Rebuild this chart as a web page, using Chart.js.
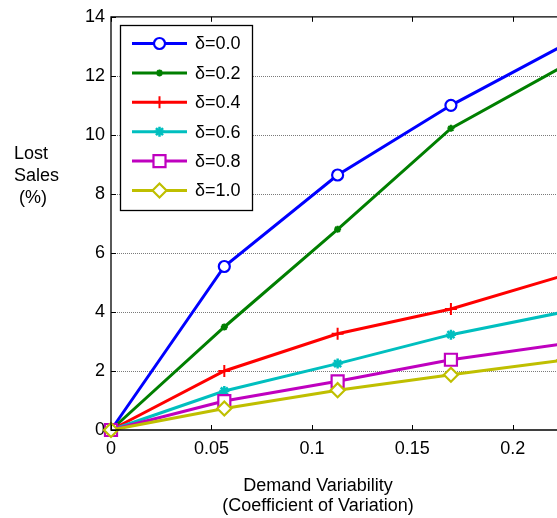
<!DOCTYPE html>
<html><head><meta charset="utf-8">
<script src="https://cdn.jsdelivr.net/npm/chart.js@4/dist/chart.umd.min.js"></script>
<style>html,body{margin:0;padding:0;background:#fff;overflow:hidden}#wrap{width:557px;height:518px;position:relative}</style>
</head><body><div id="wrap"><canvas id="c" width="557" height="518"></canvas></div>
<script>
// ---- data ----
const cv = [0, 0.0564, 0.1128, 0.1692, 0.2256];
const seriesLabels = ['δ=0.0', 'δ=0.2', 'δ=0.4', 'δ=0.6', 'δ=0.8', 'δ=1.0'];
const d00 = [0, 5.54, 8.64, 11.0, 13.05];
const d02 = [0, 3.49, 6.80, 10.22, 12.34];
const d04 = [0, 2.00, 3.26, 4.10, 5.24];
const d06 = [0, 1.32, 2.25, 3.23, 4.00];
const d08 = [0, 0.98, 1.65, 2.38, 2.92];
const d10 = [0, 0.73, 1.35, 1.87, 2.37];
const yTicks = [0, 2, 4, 6, 8, 10, 12, 14];
const xTicks = [0, 0.05, 0.1, 0.15, 0.2];
const yTitle = ['Lost', 'Sales', ' (%)'];
const xTitle = ['Demand Variability', '(Coefficient of Variation)'];

// ---- styles ----
const FONT = "'Liberation Sans', Arial, Helvetica, sans-serif";
const colors = ['#0000ff', '#007f00', '#ff0000', '#00bfbf', '#bf00bf', '#bfbf00'];
const markers = [
  {pointStyle: 'circle', radius: 5.5, borderWidth: 2.2},
  {pointStyle: 'star', radius: 3.5, borderWidth: 2},
  {pointStyle: 'cross', radius: 6, borderWidth: 2},
  {pointStyle: 'star', radius: 5, borderWidth: 2.5},
  {pointStyle: 'rect', radius: 8.5, borderWidth: 2.2},
  {pointStyle: 'rectRot', radius: 7, borderWidth: 2.2}
];
const allSeries = [d00, d02, d04, d06, d08, d10];

const datasets = allSeries.map((s, i) => ({
  label: seriesLabels[i],
  data: cv.map((x, j) => ({x: x, y: s[j]})),
  borderColor: colors[i],
  backgroundColor: colors[i],
  borderWidth: 3,
  pointStyle: markers[i].pointStyle,
  pointRadius: markers[i].radius,
  pointBorderWidth: markers[i].borderWidth,
  pointBorderColor: colors[i],
  pointBackgroundColor: '#ffffff',
  tension: 0,
  clip: false,
  order: allSeries.length - i
}));

const deco = {
  id: 'deco',
  beforeDatasetsDraw(chart) {
    const {ctx, chartArea: a, scales: {y}} = chart;
    ctx.save();
    ctx.strokeStyle = '#7a7a7a';
    ctx.lineWidth = 1;
    ctx.setLineDash([1, 1]);
    yTicks.forEach(v => {
      if (v === yTicks[0] || v === yTicks[yTicks.length - 1]) return;
      const py = Math.round(y.getPixelForValue(v)) + 0.5;
      ctx.beginPath(); ctx.moveTo(a.left, py); ctx.lineTo(a.right, py); ctx.stroke();
    });
    ctx.restore();
  },
  afterDatasetsDraw(chart) {
    const {ctx, chartArea: a, scales: {x, y}} = chart;
    ctx.save();
    ctx.strokeStyle = '#000';
    ctx.lineWidth = 1.3;
    // frame: left, top, bottom
    ctx.beginPath();
    ctx.moveTo(a.right + 2, a.top); ctx.lineTo(a.left, a.top); ctx.lineTo(a.left, a.bottom); ctx.lineTo(a.right + 2, a.bottom);
    ctx.stroke();
    // inner ticks
    ctx.lineWidth = 1;
    const TL = 5;
    yTicks.forEach(v => {
      const py = Math.round(y.getPixelForValue(v)) + 0.5;
      ctx.beginPath(); ctx.moveTo(a.left, py); ctx.lineTo(a.left + TL, py); ctx.stroke();
    });
    xTicks.forEach(v => {
      const px = Math.round(x.getPixelForValue(v)) + 0.5;
      ctx.beginPath(); ctx.moveTo(px, a.bottom); ctx.lineTo(px, a.bottom - TL); ctx.stroke();
      ctx.beginPath(); ctx.moveTo(px, a.top); ctx.lineTo(px, a.top + TL); ctx.stroke();
    });
    ctx.restore();

    // axis titles
    ctx.save();
    ctx.fillStyle = '#000';
    ctx.font = '18px ' + FONT;
    ctx.textBaseline = 'alphabetic';
    ctx.textAlign = 'left';
    yTitle.forEach((t, i) => ctx.fillText(t, 14, 159 + i * 22));
    ctx.textAlign = 'center';
    xTitle.forEach((t, i) => ctx.fillText(t, 318, 491 + i * 20));
    ctx.restore();

    // legend
    ctx.save();
    const lx = 120.5, ly = 25.5, lw = 132, lh = 185;
    ctx.fillStyle = '#fff';
    ctx.fillRect(lx, ly, lw, lh);
    ctx.strokeStyle = '#000';
    ctx.lineWidth = 1.3;
    ctx.strokeRect(lx, ly, lw, lh);
    chart.data.datasets.forEach((ds, i) => {
      const cy = 43.5 + i * 29.4;
      ctx.strokeStyle = ds.borderColor;
      ctx.lineWidth = 3;
      ctx.beginPath(); ctx.moveTo(132, cy); ctx.lineTo(187, cy); ctx.stroke();
      ctx.fillStyle = '#fff';
      ctx.lineWidth = ds.pointBorderWidth;
      Chart.helpers.drawPoint(ctx, {pointStyle: ds.pointStyle, radius: ds.pointRadius, rotation: 0, borderWidth: ds.pointBorderWidth}, 159.5, cy);
      ctx.fillStyle = '#000';
      ctx.font = '18px ' + FONT;
      ctx.textAlign = 'left';
      ctx.textBaseline = 'middle';
      ctx.fillText(ds.label, 195, cy + 1);
    });
    ctx.restore();
  }
};

new Chart(document.getElementById('c'), {
  type: 'line',
  data: {datasets: datasets},
  options: {
    responsive: false,
    animation: false,
    devicePixelRatio: 1,
    layout: {autoPadding: false, padding: {top: 15, right: 0, bottom: 0, left: 0}},
    plugins: {legend: {display: false}, tooltip: {enabled: false}},
    scales: {
      x: {
        type: 'linear', min: 0, max: 0.222,
        afterBuildTicks: s => { s.ticks = xTicks.map(v => ({value: v})); },
        afterFit: s => { s.height = 88; },
        grid: {display: false, drawTicks: false},
        border: {display: false},
        ticks: {color: '#000', font: {size: 18, family: FONT}, padding: 8, maxRotation: 0, autoSkip: false,
          callback: v => String(v)}
      },
      y: {
        type: 'linear', min: 0, max: 14,
        afterBuildTicks: s => { s.ticks = yTicks.map(v => ({value: v})); },
        afterFit: s => { s.width = 111; },
        grid: {display: false, drawTicks: false},
        border: {display: false},
        ticks: {color: '#000', font: {size: 18, family: FONT}, padding: 6, autoSkip: false,
          callback: v => String(v)}
      }
    }
  },
  plugins: [deco]
});
</script></body></html>
